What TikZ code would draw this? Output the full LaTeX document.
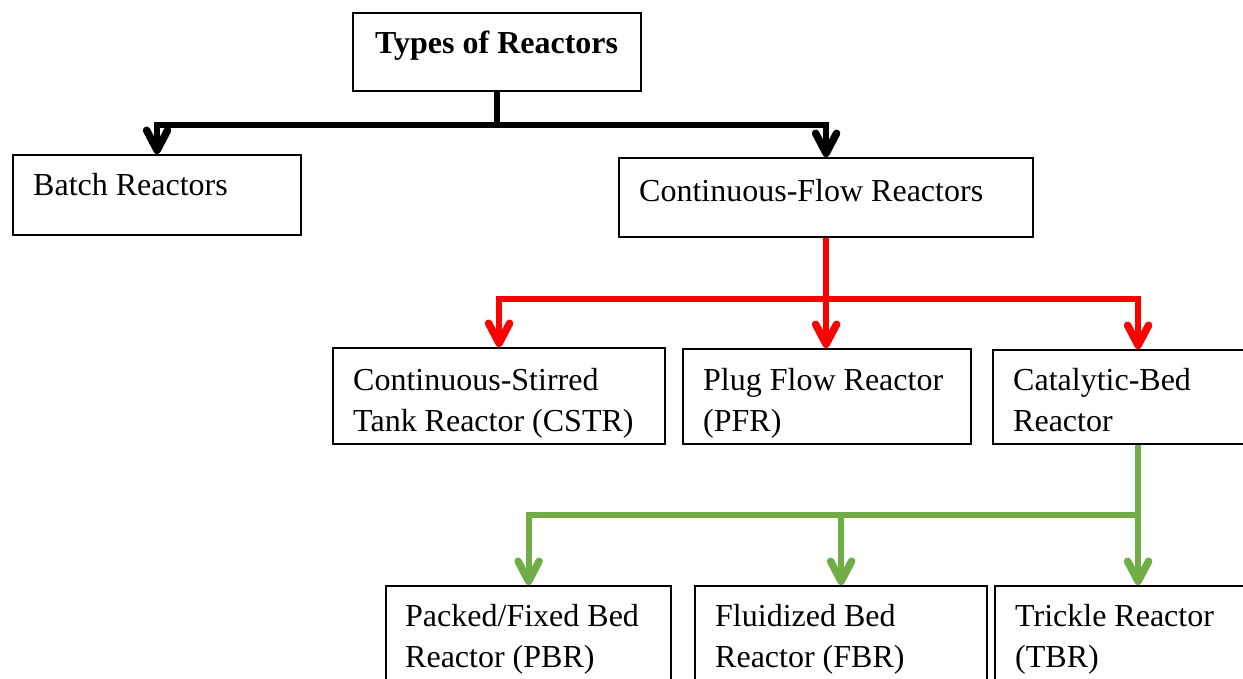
\documentclass[tikz,border=0pt]{standalone}
\usepackage{fontspec}
\setmainfont{Liberation Serif}
\usetikzlibrary{arrows.meta}
\definecolor{linkred}{HTML}{FF0000}
\definecolor{linkgreen}{HTML}{70AD47}
\begin{document}
\begin{tikzpicture}[x=1pt,y=-1pt,
  box/.style={draw, line width=2.2pt, anchor=north west, inner sep=0pt},
  lbl/.style={anchor=base west, inner sep=0pt, align=left,
              font=\fontsize{32}{41}\selectfont},
  link/.style={line width=6pt},
  tip/.style={-{Straight Barb[length=20pt,width=21pt,line width'=7.5pt,line cap=round,line join=round]}},
]
\useasboundingbox (0,0) rectangle (1243,678);
\clip (0,0) rectangle (1243,678);

% boxes
\node[box, minimum width=288pt, minimum height=78pt] (types) at (352,12) {};
\node[box, minimum width=288pt, minimum height=80pt] (batch) at (12,154) {};
\node[box, minimum width=414pt, minimum height=79pt] (cont)  at (618,157) {};
\node[box, minimum width=332pt, minimum height=96pt] (cstr)  at (332,347) {};
\node[box, minimum width=288pt, minimum height=95pt] (pfr)   at (682,348) {};
\node[box, minimum width=290pt, minimum height=94pt] (cat)   at (992,349) {};
\node[box, minimum width=285pt, minimum height=115pt] (pbr)  at (385,585) {};
\node[box, minimum width=292pt, minimum height=115pt] (fbr)  at (694,585) {};
\node[box, minimum width=286pt, minimum height=115pt] (tbr)  at (994,585) {};

% labels (two-line labels are placed by the baseline of their last line)
\node[lbl, font=\fontsize{32}{41}\selectfont\bfseries] (tTypes) at (375,53) {Types of Reactors};
\node[lbl] (tBatch) at (33,195) {Batch Reactors};
\node[lbl] (tCont)  at (639,201) {Continuous-Flow Reactors};
\node[lbl] (tCstr)  at (353,431) {Continuous-Stirred\\Tank Reactor (CSTR)};
\node[lbl] (tPfr)   at (703,431) {Plug Flow Reactor\\(PFR)};
\node[lbl] (tCat)   at (1013,431) {Catalytic-Bed\\Reactor};
\node[lbl] (tPbr)   at (405,667) {Packed/Fixed Bed\\Reactor (PBR)};
\node[lbl] (tFbr)   at (715,667) {Fluidized Bed\\Reactor (FBR)};
\node[lbl] (tTbr)   at (1015,667) {Trickle Reactor\\(TBR)};

% first level: black
\draw[link] (types.south) -- (types.south |- 0,125) coordinate (j1);
\draw[link,tip] (j1) -| (batch.north);
\draw[link,tip] (j1) -| (cont.north);

% second level: red
\draw[link,linkred] (cont.south) -- (cont.south |- 0,299) coordinate (j2);
\draw[link,linkred,tip] (j2) -- (pfr.north -| j2);
\draw[link,linkred,tip] (j2) -| (cstr.north);
\draw[link,linkred,tip] (j2) -| (cat.north);

% third level: green
\draw[link,linkgreen] (cat.south) -- (cat.south |- 0,515) coordinate (j3);
\draw[link,linkgreen,tip] (j3) -| (pbr.north);
\draw[link,linkgreen,tip] (j3) -| (fbr.north);
\draw[link,linkgreen,tip] (j3) -- (tbr.north);
\end{tikzpicture}
\end{document}
